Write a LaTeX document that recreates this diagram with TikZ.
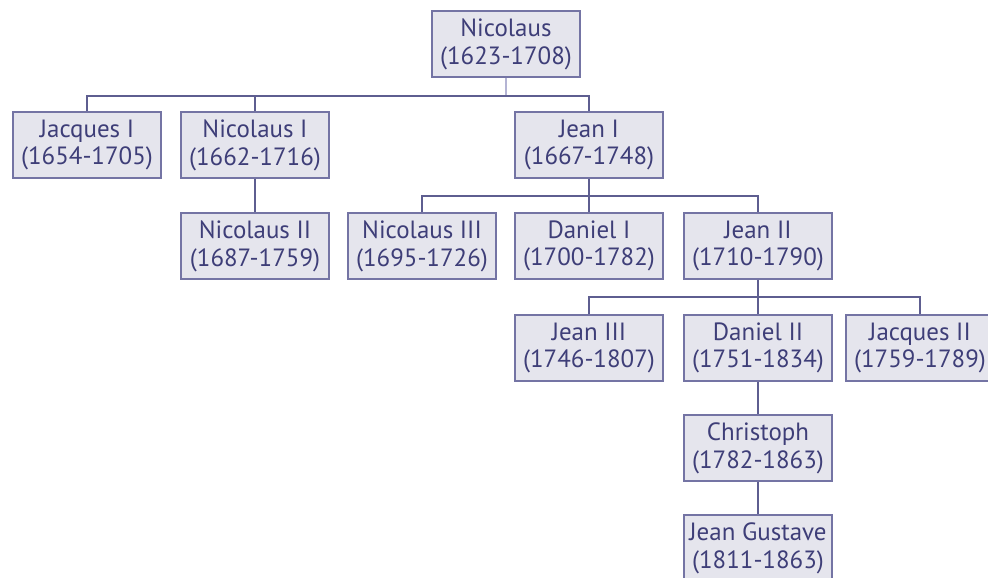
\documentclass[tikz,border=0pt]{standalone}
\usepackage{fontspec}
\setmainfont{PT Sans}
\usepackage{tikz}
\usetikzlibrary{calc,positioning}

\definecolor{boxfill}{HTML}{E5E5ED}
\definecolor{boxline}{HTML}{7474A4}
\definecolor{boxtext}{HTML}{3E3E78}
\definecolor{linkcol}{HTML}{5E5E90}
\definecolor{rootcol}{HTML}{B4B4D4}

\begin{document}
\begin{tikzpicture}[x=0.02cm,y=-0.02cm,
  person/.style={draw=boxline,fill=boxfill,line width=1.1pt,text=boxtext,
    minimum width=2.96cm,minimum height=1.32cm,inner sep=0pt,align=center,
    font=\fontsize{14.2}{15.8}\selectfont},
  link/.style={draw=linkcol,line width=1.1pt}]
\useasboundingbox (0,0) rectangle (988,578);

\coordinate (b1) at (506,96);
\coordinate (b2) at (588,196);
\coordinate (b3) at (757,297);

\node (nic) at (506,44)[person]{Nicolaus\\(1623-1708)};

\node (jac1) at (87,145)[person]{Jacques I\\(1654-1705)};
\node (nic1) at (255,145)[person]{Nicolaus I\\(1662-1716)};
\node (jean1) at (589,145)[person]{Jean I\\(1667-1748)};

\node (nic2) at (255,246)[person]{Nicolaus II\\(1687-1759)};
\node (nic3) at (422,246)[person]{Nicolaus III\\(1695-1726)};
\node (dan1) at (589,246)[person]{Daniel I\\(1700-1782)};
\node (jean2) at (758,246)[person]{Jean II\\(1710-1790)};

\node (jean3) at (589,348)[person]{Jean III\\(1746-1807)};
\node (dan2) at (758,348)[person]{Daniel II\\(1751-1834)};
\node (jac2) at (920,348)[person]{Jacques II\\(1759-1789)};

\node (chr) at (758,448)[person]{Christoph\\(1782-1863)};
\node (jg) at (758,548)[person]{Jean Gustave\\(1811-1863)};


\draw[draw=rootcol,line width=1.4pt] (nic) -- (b1);
\draw[link] (jac1.north) |- (b1) -| (jean1.north) (nic1.north) -- (nic1.north |- b1);
\draw[link] (nic1) -- (nic2);
\draw[link] (jean1) -- (dan1) (nic3.north) |- (b2) -| (jean2.north);
\draw[link] (jean2) -- (dan2) (jean3.north) |- (b3) -| (jac2.north);
\draw[link] (dan2) -- (chr);
\draw[link] (chr) -- (jg);

\end{tikzpicture}
\end{document}
